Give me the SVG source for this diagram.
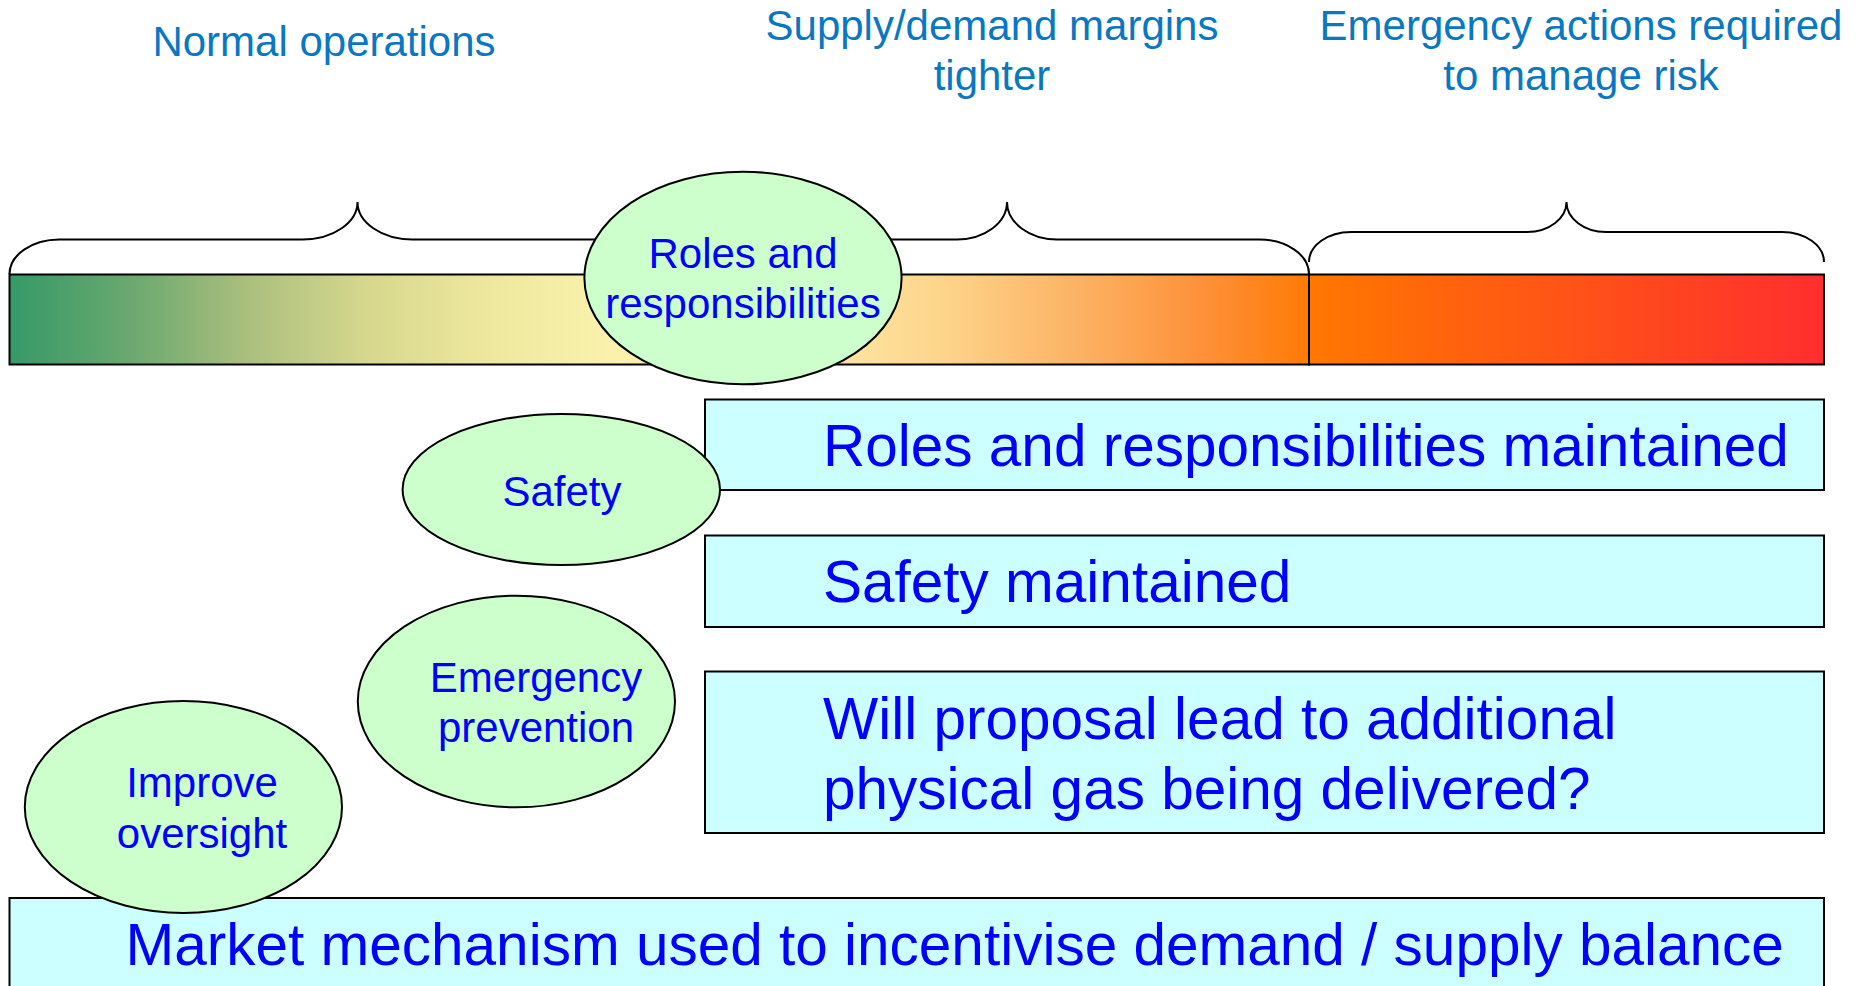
<svg xmlns="http://www.w3.org/2000/svg" width="1856" height="986" viewBox="0 0 1856 986">
<defs>
<style>
.hdr{font-family:"Liberation Sans",Arial,sans-serif;font-size:42px;fill:#0A77C2;text-anchor:middle}
.el{fill:#CCFFCC;stroke:#000;stroke-width:2}
.elt{font-family:"Liberation Sans",Arial,sans-serif;font-size:42px;fill:#0000FF;text-anchor:middle}
.box{fill:#CCFFFF;stroke:#000;stroke-width:2}
.boxt{font-family:"Liberation Sans",Arial,sans-serif;font-size:58.5px;fill:#0000FF}
.brace{fill:none;stroke:#000;stroke-width:2}
.bar{stroke:#000;stroke-width:2}
</style>
<linearGradient id="gLeft" x1="0" y1="0" x2="1" y2="0">
<stop offset="0" stop-color="#359A68"/>
<stop offset="0.09" stop-color="#68A86F"/>
<stop offset="0.18" stop-color="#A9BE7D"/>
<stop offset="0.28" stop-color="#D8D98E"/>
<stop offset="0.37" stop-color="#EEE89E"/>
<stop offset="0.46" stop-color="#FAF2AC"/>
<stop offset="0.62" stop-color="#FDE9A6"/>
<stop offset="0.72" stop-color="#FDD48A"/>
<stop offset="0.82" stop-color="#FCB365"/>
<stop offset="0.92" stop-color="#FE9038"/>
<stop offset="1" stop-color="#FF7A05"/>
</linearGradient>
<linearGradient id="gRight" x1="0" y1="0" x2="1" y2="0">
<stop offset="0" stop-color="#FF7800"/>
<stop offset="1" stop-color="#FF2E2E"/>
</linearGradient>
</defs>
<rect width="1856" height="986" fill="#FFFFFF"/>

<g id="headers">
<text class="hdr" x="324" y="56">Normal operations</text>
<text class="hdr" x="992" y="39.5">Supply/demand margins</text>
<text class="hdr" x="992" y="90">tighter</text>
<text class="hdr" x="1581" y="39.5">Emergency actions required</text>
<text class="hdr" x="1581" y="90">to manage risk</text>
</g>

<g id="connectors">
<path class="brace" d="M 9.5 274 A 50 34.5 0 0 1 59.5 239.5 L 302.5 239.5 A 55 37.5 0 0 0 357.5 202 A 55 37.5 0 0 0 412.5 239.5 L 655.5 239.5 A 50 34.5 0 0 1 705.5 274"/>
<path class="brace" d="M 705.5 274 A 50 34.5 0 0 1 755.5 239.5 L 957 239.5 A 50 37.5 0 0 0 1007 202 A 50 37.5 0 0 0 1057 239.5 L 1259 239.5 A 50 34.5 0 0 1 1309 274"/>
<path class="brace" d="M 1309 262 A 42 30 0 0 1 1351 232 L 1527 232 A 39.5 30 0 0 0 1566.5 202 A 39.5 30 0 0 0 1606 232 L 1782 232 A 42 30 0 0 1 1824 262"/>
</g>

<g id="bar">
<rect class="bar" x="9.5" y="274.5" width="1299.5" height="90" fill="url(#gLeft)"/>
<rect class="bar" x="1309" y="274.5" width="515" height="90" fill="url(#gRight)"/>
</g>

<g id="box-roles">
<rect class="box" x="705" y="399.5" width="1119" height="90.5"/>
<text class="boxt" x="823" y="466">Roles and responsibilities maintained</text>
</g>
<g id="box-safety">
<rect class="box" x="705" y="535.5" width="1119" height="91.5"/>
<text class="boxt" x="823" y="602">Safety maintained</text>
</g>
<g id="box-gas">
<rect class="box" x="705" y="671.5" width="1119" height="161.5"/>
<text class="boxt" x="823" y="738.5">Will proposal lead to additional</text>
<text class="boxt" x="823" y="808.5">physical gas being delivered?</text>
</g>
<g id="box-market">
<rect class="box" x="9.5" y="898" width="1814.5" height="100"/>
<text class="boxt" x="125.5" y="965">Market mechanism used to incentivise demand / supply balance</text>
</g>

<g id="ellipse-roles">
<ellipse class="el" cx="743" cy="278" rx="158.6" ry="106.3"/>
<text class="elt" x="743" y="268">Roles and</text>
<text class="elt" x="743" y="318">responsibilities</text>
</g>
<g id="ellipse-safety">
<ellipse class="el" cx="561.3" cy="489.5" rx="158.7" ry="75.5"/>
<text class="elt" x="562" y="506">Safety</text>
</g>
<g id="ellipse-emergency">
<ellipse class="el" cx="516.4" cy="701.5" rx="158.6" ry="105.8"/>
<text class="elt" x="536" y="691.5">Emergency</text>
<text class="elt" x="536" y="742">prevention</text>
</g>
<g id="ellipse-oversight">
<ellipse class="el" cx="183.4" cy="807" rx="158.6" ry="106"/>
<text class="elt" x="202" y="797">Improve</text>
<text class="elt" x="202" y="848">oversight</text>
</g>
</svg>
